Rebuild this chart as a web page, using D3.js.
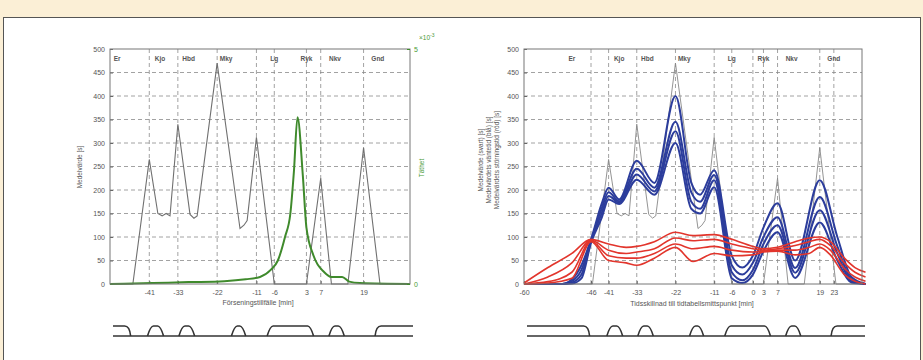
<!DOCTYPE html>
<html>
<head>
<meta charset="utf-8">
<script src="https://cdn.jsdelivr.net/npm/d3@7"></script>
<style>
  body { margin: 0; background: #fbefd6; }
  text { font-family: "Liberation Sans", Arial, sans-serif; }
</style>
</head>
<body>
<svg id="chart" width="923" height="360"></svg>
<script>
// station labels along the top of both plots
const stationNames = ["Er", "Kjo", "Hbd", "Mky", "Lg", "Ryk", "Nkv", "Gnd"];
const stationPos = [-50, -38, -30, -19.5, -6, 3, 11, 23];

const leftTicks = [-41, -33, -22, -11, -6, 3, 7, 19];
const rightTicks = [-60, -46, -41, -33, -22, -11, -6, 0, 3, 7, 19, 23];
const yTicks = [0, 50, 100, 150, 200, 250, 300, 350, 400, 450, 500];
const densTicks = [0, 5];

// mean value (grey)
const greyT = [-52, -45.6, -41, -38.6, -37.4, -36.3, -35.2, -33, -29.6, -28.5, -27.6, -22, -15.6, -14.5, -13.6, -11, -6, 3, 7, 10, 14.6, 19, 23.6, 32];
const greyV = [0, 0, 265, 150, 145, 150, 145, 340, 148, 140, 145, 470, 118, 125, 135, 312, 0, 0, 225, 0, 0, 290, 0, 0];

// density (green, x10^-3)
const densT = [-52, -40, -30, -20, -14, -10, -7, -5, -3, -1.5, -0.5, 0.5, 2, 3, 5, 8, 10, 13, 15, 18, 32];
const densV = [0, 0.02, 0.04, 0.06, 0.1, 0.15, 0.3, 0.5, 1.0, 1.5, 2.4, 3.55, 2.3, 1.2, 0.6, 0.25, 0.15, 0.15, 0.05, 0.02, 0];

// waiting time (blue)
const blueT = [-60, -52, -50, -48, -46, -43, -41, -38, -33, -28, -22, -17.5, -15, -11, -6, -3, 0, 3, 7, 12, 19, 24, 28, 32];
const blue1 = [0, 0, 10, 40, 95, 170, 205, 180, 262, 215, 400, 215, 190, 242, 60, 35, 60, 120, 172, 50, 221, 100, 15, 0];
const blue2 = [0, 0, 6, 30, 92, 160, 195, 176, 245, 205, 345, 195, 175, 232, 40, 20, 45, 100, 142, 34, 185, 80, 10, 0];
const blue3 = [0, 0, 3, 20, 90, 150, 187, 173, 233, 197, 325, 175, 160, 221, 25, 8, 30, 85, 125, 24, 157, 65, 6, 0];
const blue4 = [0, 0, 1, 12, 88, 140, 180, 170, 222, 190, 300, 160, 150, 206, 12, 2, 20, 70, 110, 13, 131, 50, 3, 0];

// disturbance (red)
const redT = [-60, -55, -50, -46, -41, -36, -33, -28, -22, -17, -11, -6, 0, 3, 7, 12, 16, 19, 22, 26, 29, 32];
const red1 = [2, 35, 65, 95, 85, 78, 80, 90, 110, 103, 105, 95, 80, 75, 78, 90, 98, 100, 90, 55, 35, 25];
const red2 = [0, 15, 45, 93, 72, 65, 68, 75, 98, 92, 95, 85, 75, 72, 75, 82, 90, 95, 82, 45, 25, 15];
const red3 = [0, 5, 25, 92, 60, 55, 55, 65, 85, 75, 80, 72, 68, 70, 72, 72, 78, 85, 72, 33, 15, 6];
const red4 = [0, 2, 12, 90, 50, 45, 40, 55, 78, 48, 65, 60, 62, 68, 70, 62, 65, 78, 62, 20, 6, 0];

// track layout under the plots
const sidings = [[-41.5, -37], [-32.7, -28.3], [-18, -14], [-8, 5], [9.3, 13.6]];
const doubleEnd = -46.5;
const doubleStart = 22.5;

const svg = d3.select("#chart");

svg.append("rect")
  .attr("x", 3.5).attr("y", 17.5)
  .attr("width", 917).attr("height", 360)
  .attr("fill", "#fff").attr("stroke", "#555");

const plotTop = 49, plotBottom = 284;
const y = d3.scaleLinear().domain([0, 500]).range([plotBottom, plotTop]);
const plain = d => String(d);

function drawPanel(x, ticks) {
  const g = svg.append("g");
  const x0 = x.range()[0], x1 = x.range()[x.range().length - 1];

  // grid
  g.selectAll(".hg").data(yTicks.slice(1, -1)).enter().append("line")
    .attr("x1", x0).attr("x2", x1)
    .attr("y1", d => y(d)).attr("y2", d => y(d))
    .attr("stroke", "#8a8a8a").attr("stroke-width", 0.8)
    .attr("stroke-dasharray", "4,3");
  g.selectAll(".vg").data(ticks.filter(d => x(d) > x0 + 1)).enter().append("line")
    .attr("x1", d => x(d)).attr("x2", d => x(d))
    .attr("y1", plotTop).attr("y2", plotBottom)
    .attr("stroke", "#8a8a8a").attr("stroke-width", 0.8)
    .attr("stroke-dasharray", "4,3");

  // axes (ticks inward)
  g.append("g").attr("transform", "translate(0," + plotBottom + ")")
    .call(d3.axisBottom(x).tickValues(ticks).tickSize(-3).tickPadding(6).tickFormat(plain))
    .call(a => a.select(".domain").remove());
  g.append("g").attr("transform", "translate(" + x0 + ",0)")
    .call(d3.axisLeft(y).tickValues(yTicks).tickSize(-3).tickPadding(5))
    .call(a => a.select(".domain").remove());
  g.selectAll(".tick text").attr("font-size", 7).attr("fill", "#555")
    .attr("font-family", "Liberation Sans, Arial, sans-serif");
  g.selectAll(".tick line").attr("stroke", "#666");

  // station names
  g.selectAll(".st").data(stationNames).enter().append("text")
    .attr("x", (d, i) => x(stationPos[i])).attr("y", 61)
    .attr("text-anchor", "middle").attr("font-size", 6.5)
    .attr("font-weight", "bold").attr("fill", "#555")
    .text(d => d);

  // track diagram
  const yUp = 326, yLow = 336;
  const tr = g.append("g").attr("fill", "none").attr("stroke", "#333").attr("stroke-width", 1.6);
  tr.append("line").attr("x1", x0 + 3).attr("x2", x1 + 3).attr("y1", yLow).attr("y2", yLow);
  const pe = d3.path();
  pe.moveTo(x0 + 3, yUp); pe.lineTo(x(doubleEnd) - 5, yUp);
  pe.quadraticCurveTo(x(doubleEnd), yUp, x(doubleEnd) + 1, yLow);
  tr.append("path").attr("d", pe.toString());
  const ps = d3.path();
  ps.moveTo(x(doubleStart) - 1, yLow);
  ps.quadraticCurveTo(x(doubleStart), yUp, x(doubleStart) + 5, yUp);
  ps.lineTo(x1 + 3, yUp);
  tr.append("path").attr("d", ps.toString());
  sidings.forEach(s => {
    const a = x(s[0]), b = x(s[1]);
    const p = d3.path();
    p.moveTo(a, yLow);
    p.quadraticCurveTo(a + 3, yUp, a + 6, yUp);
    p.lineTo(b - 6, yUp);
    p.quadraticCurveTo(b - 3, yUp, b, yLow);
    tr.append("path").attr("d", p.toString());
  });

  return g;
}

function addBox(g, x) {
  const x0 = x.range()[0], x1 = x.range()[x.range().length - 1];
  g.append("rect").attr("x", x0).attr("y", plotTop)
    .attr("width", x1 - x0).attr("height", plotBottom - plotTop)
    .attr("fill", "none").attr("stroke", "#777").attr("stroke-width", 1);
}

// ---- left chart ----
const xL = d3.scaleLinear().domain([-52, 32]).range([110, 410]);
const gL = drawPanel(xL, leftTicks);
const yD = d3.scaleLinear().domain([0, 5]).range([plotBottom, plotTop]);

gL.append("path").datum(d3.zip(greyT, greyV))
  .attr("fill", "none").attr("stroke", "#707070").attr("stroke-width", 1.1)
  .attr("d", d3.line().x(d => xL(d[0])).y(d => y(d[1])));
gL.append("path").datum(d3.zip(densT, densV))
  .attr("fill", "none").attr("stroke", "#3f8a2c").attr("stroke-width", 2)
  .attr("d", d3.line().x(d => xL(d[0])).y(d => yD(d[1])).curve(d3.curveMonotoneX));
addBox(gL, xL);

const axR = gL.append("g").attr("transform", "translate(410,0)")
  .call(d3.axisRight(yD).tickValues(densTicks).tickSize(-3).tickPadding(4).tickFormat(plain));
axR.select(".domain").remove();
axR.selectAll(".tick line").attr("stroke", "#3f8a2c");
axR.selectAll(".tick text").attr("font-size", 7).attr("fill", "#4a9a36");
gL.append("text").attr("x", 419).attr("y", 40).attr("font-size", 6.5).attr("fill", "#4a9a36")
  .text("×10").append("tspan").attr("dy", -3).attr("font-size", 5).text("-3");
gL.append("text").attr("transform", "translate(424,168) rotate(-90)")
  .attr("text-anchor", "middle").attr("font-size", 6.5).attr("fill", "#4a9a36").text("Täthet");
gL.append("text").attr("transform", "translate(82,167) rotate(-90)")
  .attr("text-anchor", "middle").attr("font-size", 6.5).attr("fill", "#555").text("Medelvärde [s]");
gL.append("text").attr("x", 258).attr("y", 305)
  .attr("text-anchor", "middle").attr("font-size", 7).attr("fill", "#555").text("Förseningstillfälle [min]");

// ---- right chart ----
const xR = d3.scaleLinear().domain([-60, -46, 31]).range([524, 591, 862]);
const gR = drawPanel(xR, rightTicks);
const lineR = d3.line().x(d => xR(d[0])).y(d => y(d[1])).curve(d3.curveMonotoneX);

gR.append("path").datum(d3.zip(greyT, greyV))
  .attr("fill", "none").attr("stroke", "#888").attr("stroke-width", 0.9)
  .attr("d", d3.line().x(d => xR(d[0])).y(d => y(d[1])));
[blue1, blue2, blue3, blue4].forEach(s => {
  gR.append("path").datum(d3.zip(blueT, s))
    .attr("fill", "none").attr("stroke", "#2c3d9c").attr("stroke-width", 2)
    .attr("d", lineR);
});
[red1, red2, red3, red4].forEach(s => {
  gR.append("path").datum(d3.zip(redT, s))
    .attr("fill", "none").attr("stroke", "#e2352c").attr("stroke-width", 1.6)
    .attr("d", lineR);
});
addBox(gR, xR);

const yLabels = ["Medelvärde (svart) [s]", "Medelvärdets väntetid (blå) [s]", "Medelvärdets störningstid (röd) [s]"];
yLabels.forEach((t, i) => {
  gR.append("text").attr("transform", "translate(" + (483 + i * 8) + ",160) rotate(-90)")
    .attr("text-anchor", "middle").attr("font-size", 6.5).attr("fill", "#555").text(t);
});
gR.append("text").attr("x", 692).attr("y", 306)
  .attr("text-anchor", "middle").attr("font-size", 7).attr("fill", "#555")
  .text("Tidsskillnad till tidtabellsmittspunkt [min]");
</script>
</body>
</html>
